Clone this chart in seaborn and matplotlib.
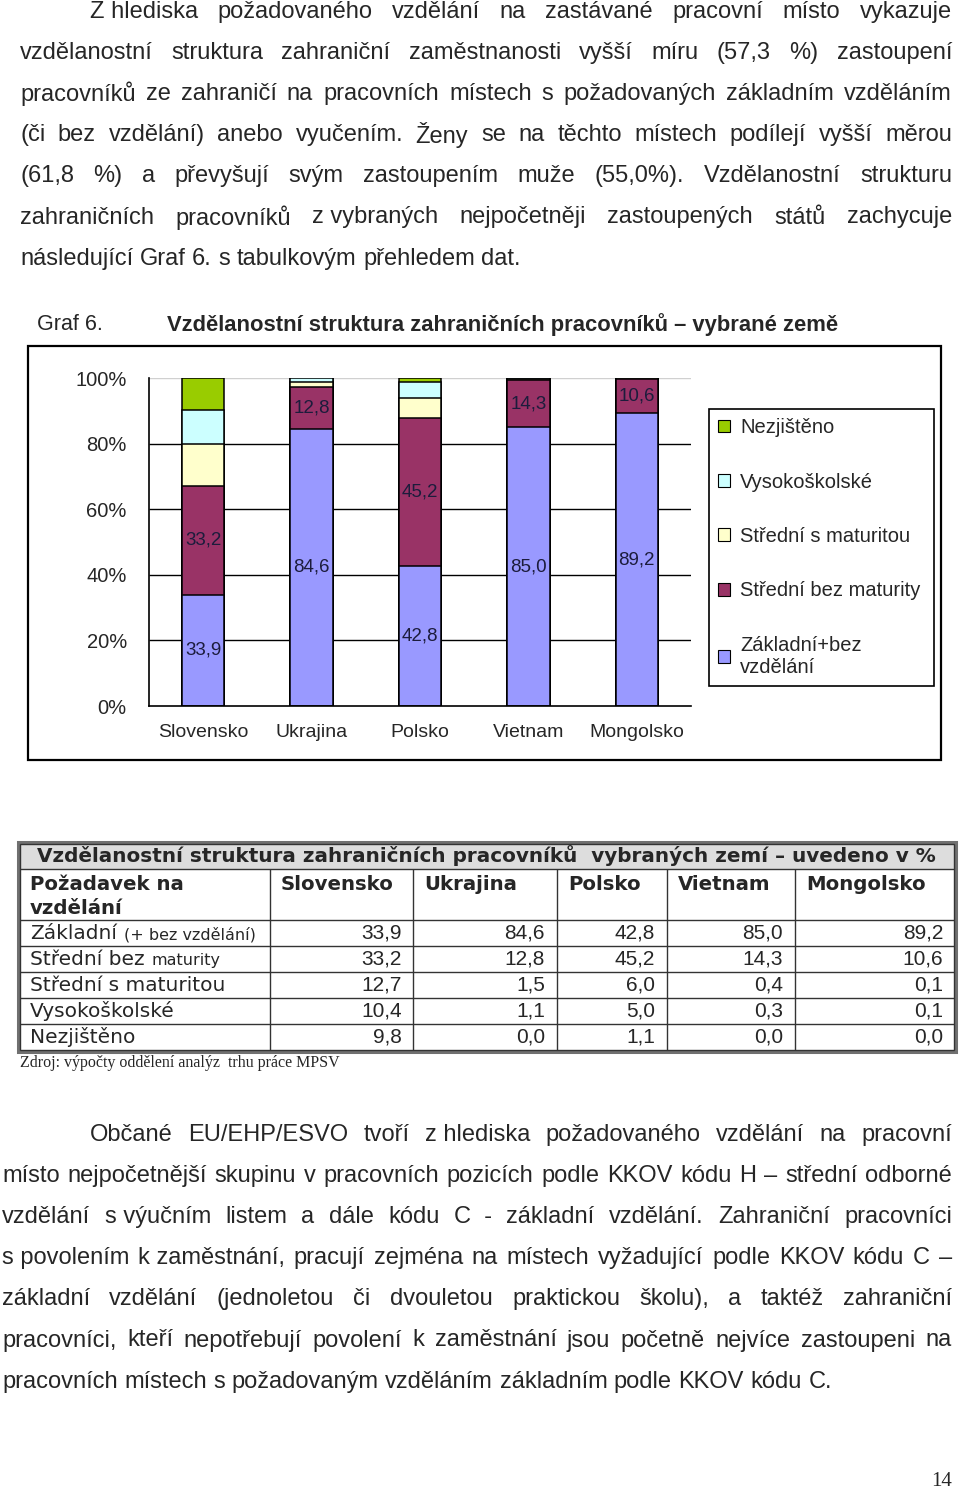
import matplotlib
matplotlib.use('Agg')
import matplotlib.pyplot as plt
from matplotlib.patches import Rectangle, Patch
import seaborn as sns
import pandas as pd
import numpy as np

# data
countries = ['Slovensko', 'Ukrajina', 'Polsko', 'Vietnam', 'Mongolsko']
level_names = ['Základní+bez\nvzdělání', 'Střední bez maturity', 'Střední s maturitou',
               'Vysokoškolské', 'Nezjištěno']
zakladni = [33.9, 84.6, 42.8, 85.0, 89.2]
stredni_bez = [33.2, 12.8, 45.2, 14.3, 10.6]
stredni_s = [12.7, 1.5, 6.0, 0.4, 0.1]
vysoko = [10.4, 1.1, 5.0, 0.3, 0.1]
nezjisteno = [9.8, 0.0, 1.1, 0.0, 0.0]
colors = ['#9999ff', '#993366', '#ffffcc', '#ccffff', '#99cc00']
yticks = [0, 20, 40, 60, 80, 100]

row_big = ['Základní', 'Střední bez', 'Střední s maturitou', 'Vysokoškolské', 'Nezjištěno']
row_small = ['(+ bez vzdělání)', 'maturity', '', '', '']

para1 = [
    'Z\u00a0hlediska požadovaného vzdělání na zastávané pracovní místo vykazuje',
    'vzdělanostní struktura zahraniční zaměstnanosti vyšší míru (57,3 %) zastoupení',
    'pracovníků ze zahraničí na pracovních místech s požadovaných základním vzděláním',
    '(či bez vzdělání) anebo vyučením. Ženy se na těchto místech podílejí vyšší měrou',
    '(61,8 %) a převyšují svým zastoupením muže (55,0%). Vzdělanostní strukturu',
    'zahraničních pracovníků z\u00a0vybraných nejpočetněji zastoupených států zachycuje',
    'následující Graf 6. s tabulkovým přehledem dat.',
]
para2 = [
    'Občané EU/EHP/ESVO tvoří z\u00a0hlediska požadovaného vzdělání na pracovní',
    'místo nejpočetnější skupinu v pracovních pozicích podle KKOV kódu H – střední odborné',
    'vzdělání s\u00a0výučním listem a dále kódu C\u00a0\u00a0- základní vzdělání. Zahraniční pracovníci',
    's\u00a0povolením k\u00a0zaměstnání, pracují zejména na místech vyžadující podle KKOV kódu C –',
    'základní vzdělání (jednoletou či dvouletou praktickou školu), a taktéž zahraniční',
    'pracovníci, kteří nepotřebují povolení k zaměstnání jsou početně nejvíce zastoupeni na',
    'pracovních místech s požadovaným vzděláním základním podle KKOV kódu C.',
]

sns.set_style('white')
plt.rcParams['font.family'] = ['Liberation Sans', 'DejaVu Sans']

fig = plt.figure(figsize=(9.6, 14.92), dpi=100)
renderer = fig.canvas.get_renderer()

# page layer in pixel coordinates
page = fig.add_axes([0, 0, 1, 1])
page.set_xlim(0, 960)
page.set_ylim(1492, 0)
page.axis('off')

FS = 17


def put_line(text, x0, x1, y, just=True, size=FS):
    words = text.split(' ')
    arts = [page.text(x0, y, w, fontsize=size, va='center', ha='left') for w in words]
    widths = [a.get_window_extent(renderer).width for a in arts]
    if just and len(words) > 1:
        gap = (x1 - x0 - sum(widths)) / (len(words) - 1)
    else:
        gap = size * 100 / 72 * 0.278
    x = x0
    for a, w in zip(arts, widths):
        a.set_x(x)
        x += w + gap


for i, line in enumerate(para1):
    put_line(line, 90 if i == 0 else 20, 952, 12 + i * 41.1, just=i < len(para1) - 1)
for i, line in enumerate(para2):
    put_line(line, 90 if i == 0 else 2, 952, 1135 + i * 41.1, just=i < len(para2) - 1)

# chart caption and frame
page.text(37, 325, 'Graf 6.', fontsize=15.5, va='center')
page.text(167, 325, 'Vzdělanostní struktura zahraničních pracovníků – vybrané země',
          fontsize=15.8, fontweight='bold', va='center')
page.add_patch(Rectangle((28, 346), 913, 414, fill=False, lw=1.6, ec='black'))

# stacked 100% bars
df = pd.DataFrame({
    'zakladni': zakladni, 'stredni_bez': stredni_bez, 'stredni_s': stredni_s,
    'vysoko': vysoko, 'nezjisteno': nezjisteno}, index=countries)
share = df.div(df.sum(axis=1), axis=0) * 100
cum = share.cumsum(axis=1)

ax = fig.add_axes([149 / 960, 1 - 706 / 1492, 542 / 960, 328 / 1492])
ax.set_zorder(2)
ax.patch.set_alpha(0)
ax.hlines([20, 40, 60, 80], -0.5, 4.5, color='black', lw=1, zorder=0)
ax.axhline(100, color='#d0d0d0', lw=1, zorder=0)

for col, c in reversed(list(zip(df.columns, colors))):
    sns.barplot(x=countries, y=cum[col].values, color=c, width=0.39, saturation=1,
                edgecolor='black', linewidth=1.1, errorbar=None, ax=ax, zorder=2)

for i in range(len(countries)):
    z = share['zakladni'].iloc[i]
    sb = share['stredni_bez'].iloc[i]
    ax.text(i, z / 2, f'{zakladni[i]:.1f}'.replace('.', ','), ha='center', va='center',
            fontsize=13.5, color='#1c1c3c', zorder=3)
    ax.text(i, z + sb / 2, f'{stredni_bez[i]:.1f}'.replace('.', ','), ha='center', va='center',
            fontsize=13.5, color='#1c1c3c', zorder=3)

ax.set_xlim(-0.5, 4.5)
ax.set_ylim(0, 100)
ax.set_xlabel('')
ax.set_ylabel('')
ax.set_xticks(range(len(countries)))
ax.set_xticklabels(countries, fontsize=14)
ax.set_xticks(np.arange(-0.5, 5, 1), minor=True)
ax.tick_params(axis='x', which='major', length=0, pad=13)
ax.tick_params(axis='x', which='minor', length=6, width=1, color='black', direction='out')
ax.set_yticks(yticks)
ax.set_yticklabels([f'{v}%' for v in yticks], fontsize=14.5)
ax.tick_params(axis='y', length=6, width=1, color='black', direction='out', pad=10)
for s in ['top', 'right']:
    ax.spines[s].set_visible(False)
for s in ['left', 'bottom']:
    ax.spines[s].set_color('black')
    ax.spines[s].set_linewidth(1.2)

handles = [Patch(fc=c, ec='black', lw=0.8, label=l)
           for c, l in reversed(list(zip(colors, level_names)))]
leg = ax.legend(handles=handles, loc='upper left', mode='expand',
                bbox_to_anchor=(709 / 960, 1 - 684 / 1492, 225 / 960, 275 / 1492),
                bbox_transform=fig.transFigure, borderaxespad=0, fontsize=14.5,
                frameon=True, fancybox=False, edgecolor='black', framealpha=1,
                handlelength=0.6, handleheight=0.6, handletextpad=0.5,
                labelspacing=1.76, borderpad=0.45)
leg.get_frame().set_linewidth(1.2)

# table
page.add_patch(Rectangle((18, 842), 938, 210, fill=False, lw=2.2, ec='#707070'))
page.add_patch(Rectangle((20, 844), 934, 25, fc='#dddddd', ec='none'))
page.add_patch(Rectangle((20, 844), 934, 206, fill=False, lw=1, ec='#333333'))
page.hlines([869, 920, 946, 972, 998, 1024], 20, 954, color='#333333', lw=1)
page.vlines([270, 413, 557, 667, 795], 869, 1050, color='#333333', lw=1)

page.text(37, 856, 'Vzdělanostní struktura zahraničních pracovníků  vybraných zemí – uvedeno v %',
          family='DejaVu Sans', fontweight='bold', fontsize=14.4, va='center')
page.text(30, 884, 'Požadavek na', family='DejaVu Sans', fontweight='bold', fontsize=14.2, va='center')
page.text(30, 908, 'vzdělání', family='DejaVu Sans', fontweight='bold', fontsize=14.2, va='center')
col_left = [281, 424, 568, 678, 806]
col_right = [402, 545, 655, 783, 943]
for c, x in zip(countries, col_left):
    page.text(x, 884, c, family='DejaVu Sans', fontweight='bold', fontsize=14.2, va='center')

row_y = [933, 959, 985, 1011, 1037]
for r, vals in enumerate([zakladni, stredni_bez, stredni_s, vysoko, nezjisteno]):
    y = row_y[r]
    t = page.text(30, y + 6, row_big[r], family='DejaVu Sans', fontsize=14.5, va='baseline')
    if row_small[r]:
        w = t.get_window_extent(renderer).width
        page.text(30 + w + 7, y + 6, row_small[r], family='DejaVu Sans', fontsize=11.5, va='baseline')
    for v, x in zip(vals, col_right):
        page.text(x, y, f'{v:.1f}'.replace('.', ','), fontsize=15, ha='right', va='center')

page.text(20, 1063, 'Zdroj: výpočty oddělení analýz  trhu práce MPSV',
          family='Liberation Serif', fontsize=11.5, va='center')
page.text(952, 1482, '14', family='Liberation Serif', fontsize=15, ha='right', va='center')

fig.savefig('out.png', dpi=100)
